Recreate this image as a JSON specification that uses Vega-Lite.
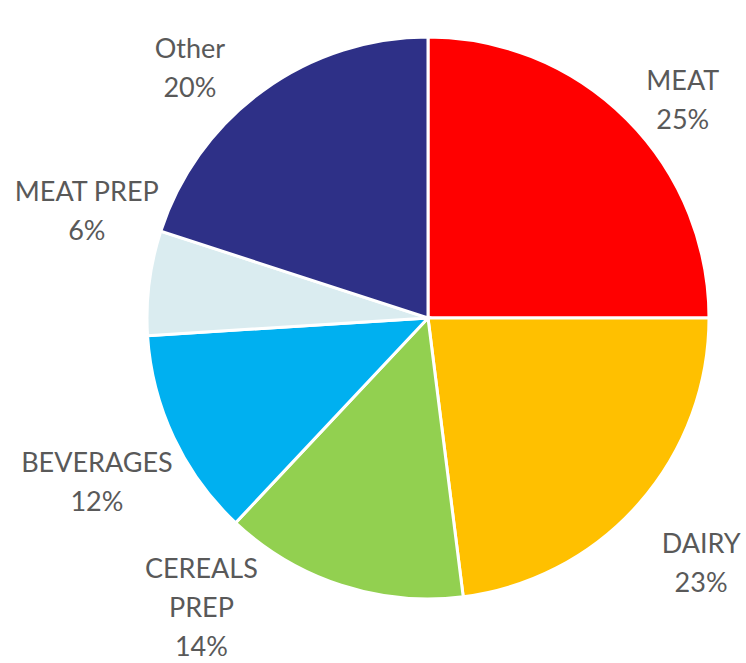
{
  "$schema": "https://vega.github.io/schema/vega-lite/v6.json",
  "width": 636,
  "height": 636,
  "autosize": {"type": "none"},
  "padding": {"left": 110, "right": 0, "top": 0, "bottom": 27},
  "background": "white",
  "view": {"stroke": null},
  "data": {
    "values": [
      {"label": "MEAT", "text": "MEAT\n25%", "value": 25, "order": 1},
      {"label": "DAIRY", "text": "DAIRY\n23%", "value": 23, "order": 2},
      {"label": "CEREALS PREP", "text": "CEREALS\nPREP\n14%", "value": 14, "order": 3},
      {"label": "BEVERAGES", "text": "BEVERAGES\n12%", "value": 12, "order": 4},
      {"label": "MEAT PREP", "text": "MEAT PREP\n6%", "value": 6, "order": 5},
      {"label": "Other", "text": "Other\n20%", "value": 20, "order": 6}
    ]
  },
  "encoding": {
    "theta": {"field": "value", "type": "quantitative", "stack": true},
    "order": {"field": "order", "type": "quantitative"}
  },
  "layer": [
    {
      "mark": {"type": "arc", "outerRadius": 281, "stroke": "white", "strokeWidth": 3},
      "encoding": {
        "color": {
          "field": "label",
          "type": "nominal",
          "scale": {
            "domain": ["MEAT", "DAIRY", "CEREALS PREP", "BEVERAGES", "MEAT PREP", "Other"],
            "range": ["#FF0000", "#FFC000", "#92D050", "#00B0F0", "#DAECF0", "#2E3087"]
          },
          "legend": null
        }
      }
    },
    {
      "mark": {
        "type": "text",
        "font": "Lato",
        "fontSize": 27,
        "color": "#595959",
        "lineBreak": "\n",
        "lineHeight": 39,
        "align": "center",
        "baseline": "middle",
        "dy": {"expr": "datum.label == 'CEREALS PREP' ? -39 : -19.5"},
        "radius": {"expr": "datum.label == 'MEAT' ? 334 : datum.label == 'DAIRY' ? 368 : datum.label == 'CEREALS PREP' ? 369 : datum.label == 'BEVERAGES' ? 370 : datum.label == 'MEAT PREP' ? 357 : 344"},
        "thetaOffset": {"expr": "datum.label == 'MEAT' ? 0.082 : datum.label == 'DAIRY' ? 0.012 : datum.label == 'CEREALS PREP' ? 0.347 : datum.label == 'BEVERAGES' ? -0.023 : datum.label == 'MEAT PREP' ? 0.173 : -0.136"}
      },
      "encoding": {
        "text": {"field": "text", "type": "nominal"}
      }
    }
  ]
}
